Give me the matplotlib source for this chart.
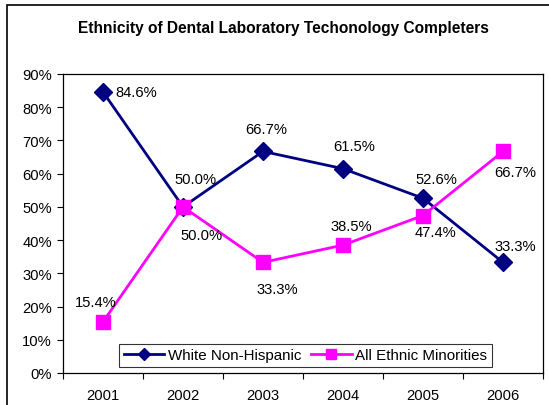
import matplotlib
matplotlib.use("Agg")
import matplotlib.pyplot as plt
from matplotlib.patches import Rectangle
from matplotlib.ticker import FuncFormatter, FixedLocator

plt.rcParams['font.family'] = ['Liberation Sans', 'DejaVu Sans']

years = ["2001", "2002", "2003", "2004", "2005", "2006"]
white = [84.6, 50.0, 66.7, 61.5, 52.6, 33.3]
minor = [15.4, 50.0, 33.3, 38.5, 47.4, 66.7]
white_name = "White Non-Hispanic"
minor_name = "All Ethnic Minorities"
title = "Ethnicity of Dental Laboratory Techonology Completers"

W, H = 549, 406
fig = plt.figure(figsize=(W/100, H/100), dpi=100)
ax = fig.add_axes([63/W, (H-374)/H, (543-63)/W, (374-75)/H])

x = list(range(len(years)))
ax.plot(x, white, color="#000080", lw=2, marker="D", ms=9, label=white_name, zorder=3)
ax.plot(x, minor, color="#FF00FF", lw=2, marker="s", ms=10, label=minor_name, zorder=3)

FS = 10.6
# label offsets in points (dx, dy)
w_off = [(9, 0), (9, 20), (2, 16), (8, 16), (10, 14), (9, 12)]
m_off = [(-5, 14), (13, -20), (10, -19), (6, 14), (9, -12), (9, -15)]
w_ha = ["left", "center", "center", "center", "center", "center"]
for i, v in enumerate(white):
    ax.annotate(f"{v:.1f}%", (x[i], v), xytext=w_off[i], textcoords="offset points",
                ha=w_ha[i], va="center", fontsize=FS, color="#000000")
for i, v in enumerate(minor):
    ax.annotate(f"{v:.1f}%", (x[i], v), xytext=m_off[i], textcoords="offset points",
                ha="center", va="center", fontsize=FS, color="#000000")

ax.set_xlim(-0.5, len(years) - 0.5)
ax.set_ylim(0, 90)
ax.set_yticks(range(0, 91, 10))
ax.yaxis.set_major_formatter(FuncFormatter(lambda v, p: f"{int(v)}%"))
ax.xaxis.set_major_locator(FixedLocator([i - 0.5 for i in range(len(years) + 1)]))
ax.xaxis.set_minor_locator(FixedLocator(x))
ax.set_xticklabels([])
ax.set_xticklabels(years, minor=True)
ax.tick_params(axis="x", which="major", direction="out", length=4, width=0.8)
ax.tick_params(axis="x", which="minor", length=0, pad=11, labelsize=FS)
ax.tick_params(axis="y", direction="out", length=4, width=0.8, labelsize=FS, pad=4)
for s in ax.spines.values():
    s.set_linewidth(0.9)
    s.set_color("black")

leg = ax.legend(loc="lower center", bbox_to_anchor=(0.505, 0.0), ncol=2,
                fontsize=10.9, frameon=True, fancybox=False, handlelength=2.7,
                columnspacing=0.6, handletextpad=0.25, borderpad=0.3,
                borderaxespad=0.4, markerscale=0.65)
leg.get_frame().set_edgecolor("black")
leg.get_frame().set_linewidth(0.8)

fig.text(283/W, 1 - 28/H, title, ha="center", va="center", fontsize=11.2, fontweight="bold")

fig.patches.append(Rectangle((7/W, -0.1), 2, (H-6)/H + 0.1, transform=fig.transFigure,
                             fill=False, edgecolor="black", lw=1.2))

fig.savefig("out.png", dpi=100)
